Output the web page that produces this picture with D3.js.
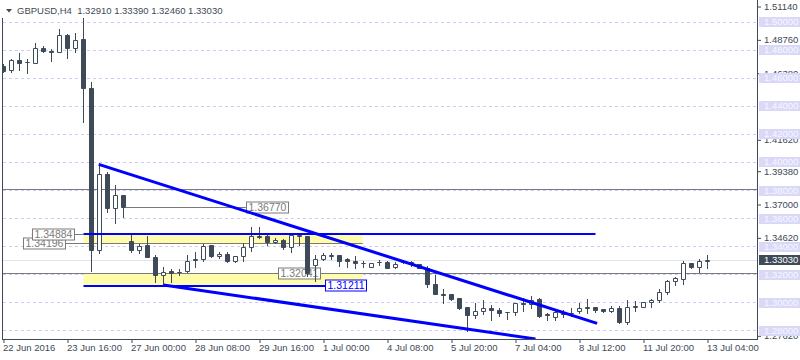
<!DOCTYPE html>
<html>
<head>
<meta charset="utf-8">
<script src="https://cdnjs.cloudflare.com/ajax/libs/d3/7.8.5/d3.min.js"></script>
<style>
  body { margin: 0; background: #fff; }
  svg { display: block; font-family: 'Liberation Sans', Arial, sans-serif; }
</style>
</head>
<body>
<svg id="chart" width="800" height="360"></svg>
<script>
const symbol = 'GBPUSD,H4';
const lastBar = ['1.32910', '1.33390', '1.32460', '1.33030'];

// H4 candles, one per bar index
const opens = [
  1.4689, 1.4654, 1.4732, 1.4713, 1.4709, 1.4816, 1.4796, 1.4787, 1.4904, 1.4816,
  1.4875, 1.4530, 1.3375, 1.3911, 1.3673, 1.3761, 1.3434, 1.3375, 1.3404, 1.3323,
  1.3196, 1.3220, 1.3216, 1.3220, 1.3300, 1.3304, 1.3404, 1.3330, 1.3344, 1.3291,
  1.3327, 1.3394, 1.3475, 1.3475, 1.3430, 1.3446, 1.3394, 1.3482, 1.3475, 1.3261,
  1.3309, 1.3332, 1.3339, 1.3304, 1.3291, 1.3282, 1.3251, 1.3287, 1.3287, 1.3251,
  1.3296, 1.3287, 1.3268, 1.3244, 1.3130, 1.3059, 1.3054, 1.3026, 1.2963, 1.2906,
  1.2934, 1.2954, 1.2946, 1.2930, 1.2927, 1.2994, 1.2987, 1.3018, 1.2913, 1.2896,
  1.2927, 1.2925, 1.2934, 1.2959, 1.2966, 1.2951, 1.2934, 1.2959, 1.2856, 1.2966,
  1.2966, 1.3001, 1.3013, 1.3070, 1.3149, 1.3166, 1.3280, 1.3251, 1.3291
];
const highs = [
  1.4700, 1.4739, 1.4780, 1.4737, 1.4851, 1.4832, 1.4811, 1.4951, 1.4916, 1.4923,
  1.5032, 1.4577, 1.3982, 1.3934, 1.3839, 1.3770, 1.3489, 1.3418, 1.3475, 1.3339,
  1.3251, 1.3237, 1.3241, 1.3339, 1.3363, 1.3418, 1.3404, 1.3363, 1.3363, 1.3327,
  1.3423, 1.3541, 1.3537, 1.3482, 1.3459, 1.3451, 1.3494, 1.3494, 1.3475, 1.3339,
  1.3351, 1.3351, 1.3339, 1.3320, 1.3332, 1.3296, 1.3284, 1.3304, 1.3296, 1.3291,
  1.3304, 1.3296, 1.3268, 1.3261, 1.3196, 1.3094, 1.3061, 1.3030, 1.2970, 1.2994,
  1.3018, 1.2982, 1.2959, 1.2930, 1.2998, 1.3030, 1.3046, 1.3030, 1.2927, 1.2937,
  1.2946, 1.2959, 1.2998, 1.3025, 1.2966, 1.2951, 1.2975, 1.2977, 1.3018, 1.3013,
  1.3006, 1.3023, 1.3094, 1.3161, 1.3184, 1.3296, 1.3284, 1.3309, 1.3339
];
const lows = [
  1.4645, 1.4646, 1.4661, 1.4641, 1.4708, 1.4789, 1.4727, 1.4786, 1.4744, 1.4791,
  1.4291, 1.3227, 1.3356, 1.3649, 1.3566, 1.3613, 1.3363, 1.3356, 1.3323, 1.3149,
  1.3121, 1.3149, 1.3196, 1.3220, 1.3254, 1.3296, 1.3323, 1.3316, 1.3291, 1.3291,
  1.3296, 1.3370, 1.3459, 1.3410, 1.3423, 1.3380, 1.3363, 1.3410, 1.3189, 1.3156,
  1.3304, 1.3309, 1.3261, 1.3254, 1.3244, 1.3255, 1.3251, 1.3268, 1.3244, 1.3244,
  1.3280, 1.3261, 1.3244, 1.3113, 1.3059, 1.2999, 1.3018, 1.2951, 1.2796, 1.2887,
  1.2918, 1.2877, 1.2906, 1.2880, 1.2913, 1.2941, 1.2959, 1.2899, 1.2875, 1.2875,
  1.2896, 1.2904, 1.2923, 1.2923, 1.2932, 1.2934, 1.2930, 1.2856, 1.2846, 1.2941,
  1.2966, 1.2970, 1.3006, 1.3061, 1.3125, 1.3130, 1.3244, 1.3220, 1.3246
];
const closes = [
  1.4649, 1.4732, 1.4704, 1.4712, 1.4816, 1.4791, 1.4787, 1.4904, 1.4816, 1.4870,
  1.4530, 1.3375, 1.3911, 1.3668, 1.3761, 1.3677, 1.3375, 1.3399, 1.3323, 1.3196,
  1.3216, 1.3209, 1.3217, 1.3296, 1.3304, 1.3399, 1.3332, 1.3345, 1.3291, 1.3327,
  1.3391, 1.3475, 1.3466, 1.3427, 1.3446, 1.3391, 1.3482, 1.3471, 1.3204, 1.3309,
  1.3339, 1.3333, 1.3296, 1.3291, 1.3280, 1.3280, 1.3280, 1.3288, 1.3244, 1.3272,
  1.3284, 1.3268, 1.3244, 1.3130, 1.3059, 1.3049, 1.3023, 1.2956, 1.2906, 1.2939,
  1.2954, 1.2946, 1.2923, 1.2929, 1.2994, 1.2984, 1.3013, 1.2899, 1.2904, 1.2927,
  1.2916, 1.2920, 1.2959, 1.2966, 1.2946, 1.2934, 1.2959, 1.2856, 1.2966, 1.2968,
  1.3001, 1.3013, 1.3070, 1.3149, 1.3168, 1.3280, 1.3249, 1.3291, 1.3303
];

const timeTicks = [0, 8, 16, 24, 32, 40, 48, 56, 64, 72, 80, 88];
const timeLabels = ['22 Jun 2016', '23 Jun 16:00', '27 Jun 00:00', '28 Jun 08:00', '29 Jun 16:00', '1 Jul 00:00',
  '4 Jul 08:00', '5 Jul 20:00', '7 Jul 04:00', '8 Jul 12:00', '11 Jul 20:00', '13 Jul 04:00'];
const priceTicks = [1.5114, 1.4876, 1.4638, 1.4162, 1.3938, 1.3700, 1.3462, 1.2762];
const gridLevels = [1.50, 1.48, 1.46, 1.44, 1.42, 1.40, 1.38, 1.36, 1.34, 1.32, 1.30, 1.28];
const currentPrice = 1.3303;

// drawn objects, anchored in bars / prices
const zones = [
  { from: 10, to: 44.9, top: 1.34884, bottom: 1.34196 },
  { from: 10, to: 44.9, top: 1.32041, bottom: 1.31211 }
];
const grayLevels = [1.3808, 1.3204];
const priceLabels = [
  { text: '1.36770', price: 1.3677, bar: 30.3, line: [15.3, 30.3] },
  { text: '1.34196', price: 1.34196, bar: 2.48, line: [2.48, 44.9] },
  { text: '1.34884', price: 1.34884, bar: 3.53, line: [3.53, 10] },
  { text: '1.32041', price: 1.3204, bar: 34.35, line: null }
];
const blueLevels = [
  { price: 1.34884, from: 10, to: 74 },
  { price: 1.31211, from: 10, to: 40.2 }
];
const blueLabel = { text: '1.31211', price: 1.31211, bar: 40.2 };
const trendLines = [
  { b1: 11.9, p1: 1.3987, b2: 74.2, p2: 1.2851 },
  { b1: 20, p1: 1.3125, b2: 66.5, p2: 1.2740 }
];

const ink = '#3e4a57';
const plot = { left: 3, right: 757, top: 0, bottom: 339 };
const snap = v => Math.round(v - 0.5) + 0.5;

const svg = d3.select('#chart');

const x = d3.scaleLinear().domain([0, 88]).range([3.5, 707.5]);
const y = d3.scaleLinear().domain([1.27393, 1.51607]).range([plot.bottom, plot.top]);

svg.append('defs').append('clipPath').attr('id', 'plot-clip')
  .append('rect')
    .attr('x', plot.left).attr('y', plot.top)
    .attr('width', plot.right - plot.left).attr('height', plot.bottom - plot.top);

const g = svg.append('g').attr('clip-path', 'url(#plot-clip)');

// grid
g.append('g').selectAll('line').data(gridLevels).join('line')
    .attr('x1', plot.left).attr('x2', plot.right)
    .attr('y1', d => snap(y(d))).attr('y2', d => snap(y(d)))
    .attr('stroke', '#cbcbf3')
    .attr('stroke-dasharray', '3,3');

g.append('line')
    .attr('x1', plot.left).attr('x2', plot.right)
    .attr('y1', snap(y(currentPrice))).attr('y2', snap(y(currentPrice)))
    .attr('stroke', '#e4e4e4');

// zones
g.append('g').selectAll('rect').data(zones).join('rect')
    .attr('x', d => x(d.from))
    .attr('y', d => y(d.top))
    .attr('width', d => x(d.to) - x(d.from))
    .attr('height', d => y(d.bottom) - y(d.top))
    .attr('fill', '#fffcaa');

// gray levels
g.append('g').selectAll('line').data(grayLevels).join('line')
    .attr('x1', plot.left).attr('x2', plot.right)
    .attr('y1', d => snap(y(d))).attr('y2', d => snap(y(d)))
    .attr('stroke', '#7a7a7a');

g.append('g').selectAll('line').data(priceLabels.filter(d => d.line)).join('line')
    .attr('x1', d => x(d.line[0])).attr('x2', d => x(d.line[1]))
    .attr('y1', d => snap(y(d.price))).attr('y2', d => snap(y(d.price)))
    .attr('stroke', '#7a7a7a');

function drawLabel(parent, d, color) {
  const lg = parent.append('g');
  const rect = lg.append('rect');
  const text = lg.append('text')
      .attr('x', Math.round(x(d.bar)) + 2.5)
      .attr('y', snap(y(d.price)))
      .attr('dy', '0.36em')
      .attr('font-size', 10.5)
      .attr('fill', color)
      .text(d.text);
  const w = text.node().getComputedTextLength();
  rect
      .attr('x', Math.round(x(d.bar)) + 0.5)
      .attr('y', snap(y(d.price)) - 5.5)
      .attr('width', Math.round(w) + 4)
      .attr('height', 11)
      .attr('fill', '#fff')
      .attr('stroke', color);
}

priceLabels.forEach(d => drawLabel(g, d, '#7a7a7a'));

// candles
const bars = d3.range(opens.length).map(i => ({ i, o: opens[i], h: highs[i], l: lows[i], c: closes[i] }));

const candles = g.append('g').selectAll('g').data(bars).join('g');

candles.append('line')
    .attr('x1', d => x(d.i)).attr('x2', d => x(d.i))
    .attr('y1', d => Math.round(y(d.h))).attr('y2', d => Math.round(y(d.l)) + 1)
    .attr('stroke', ink);

candles.append('path')
    .attr('d', d => {
      const top = snap(y(Math.max(d.o, d.c)));
      const bot = snap(y(Math.min(d.o, d.c)));
      const x0 = x(d.i) - 2;
      return `M${x0},${top}h4V${bot}h-4Z`;
    })
    .attr('fill', d => d.c >= d.o ? '#fff' : ink)
    .attr('stroke', ink);

// blue objects
g.append('g').selectAll('line').data(blueLevels).join('line')
    .attr('x1', d => x(d.from)).attr('x2', d => x(d.to))
    .attr('y1', d => Math.round(y(d.price))).attr('y2', d => Math.round(y(d.price)))
    .attr('stroke', '#0000ff')
    .attr('stroke-width', 2);

g.append('g').selectAll('line').data(trendLines).join('line')
    .attr('x1', d => x(d.b1)).attr('y1', d => y(d.p1))
    .attr('x2', d => x(d.b2)).attr('y2', d => y(d.p2))
    .attr('stroke', '#0000ff')
    .attr('stroke-width', 3);

drawLabel(g, blueLabel, '#0000ff');

// frame
svg.append('line')
    .attr('x1', 2.5).attr('x2', 2.5).attr('y1', 18).attr('y2', plot.bottom + 0.5)
    .attr('stroke', ink);
svg.append('line')
    .attr('x1', plot.right + 0.5).attr('x2', plot.right + 0.5).attr('y1', 0).attr('y2', plot.bottom + 0.5)
    .attr('stroke', ink);
svg.append('line')
    .attr('x1', 2).attr('x2', plot.right + 1).attr('y1', plot.bottom + 0.5).attr('y2', plot.bottom + 0.5)
    .attr('stroke', ink);

// time axis
const xAxis = svg.append('g')
    .attr('transform', `translate(0,${plot.bottom})`)
    .call(d3.axisBottom(x).tickValues(timeTicks).tickFormat((d, i) => timeLabels[i]).tickSize(4));
xAxis.select('.domain').remove();
xAxis.selectAll('line').attr('stroke', ink);
xAxis.selectAll('text')
    .attr('text-anchor', 'start')
    .attr('x', -1)
    .attr('y', 5)
    .attr('fill', ink)
    .attr('font-size', 9.5)
    .attr('font-family', "'Liberation Sans', Arial, sans-serif");

// price axis
const yAxis = svg.append('g')
    .attr('transform', `translate(${plot.right},0)`)
    .call(d3.axisRight(y).tickValues(priceTicks).tickFormat(d3.format('.5f')).tickSize(4));
yAxis.select('.domain').remove();
yAxis.selectAll('line').attr('stroke', ink);
yAxis.selectAll('text')
    .attr('x', 7)
    .attr('fill', ink)
    .attr('font-size', 9.5)
    .attr('font-family', "'Liberation Sans', Arial, sans-serif");

const gridTags = svg.append('g').selectAll('g').data(gridLevels).join('g')
    .attr('transform', d => `translate(759,${Math.round(y(d))})`);
gridTags.append('rect')
    .attr('x', 0).attr('y', -5).attr('width', 41).attr('height', 10)
    .attr('fill', '#d9d9f7');
gridTags.append('text')
    .attr('x', 5).attr('dy', '0.34em')
    .attr('font-size', 9.5)
    .attr('fill', '#f7f7ff')
    .text(d => d3.format('.5f')(d));

const priceTag = svg.append('g')
    .attr('transform', `translate(759,${Math.round(y(currentPrice))})`);
priceTag.append('rect')
    .attr('x', 0).attr('y', -5).attr('width', 41).attr('height', 10)
    .attr('fill', ink);
priceTag.append('text')
    .attr('x', 5).attr('dy', '0.34em')
    .attr('font-size', 9.5)
    .attr('fill', '#fff')
    .text(d3.format('.5f')(currentPrice));

// title
svg.append('path')
    .attr('d', 'M6,9h6l-3,3.5Z')
    .attr('fill', ink);
svg.append('text')
    .attr('x', 17).attr('y', 14)
    .attr('font-size', 9.5)
    .attr('fill', ink)
    .style('white-space', 'pre')
    .text(`${symbol}  ${lastBar.join(' ')}`);
</script>
</body>
</html>
